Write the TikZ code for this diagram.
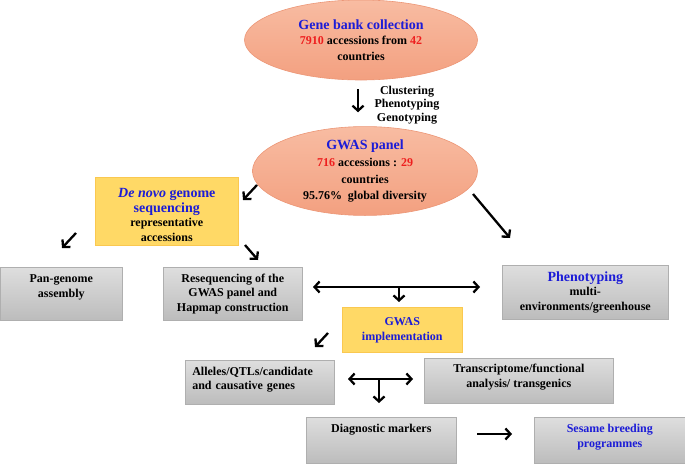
\documentclass[tikz,border=0pt]{standalone}
\usepackage{fontspec}
\setmainfont{Liberation Serif}
\usepackage{xcolor}
\usetikzlibrary{shapes.geometric,positioning,arrows.meta}

\definecolor{ovaltop}{RGB}{248,188,162}
\definecolor{ovalbot}{RGB}{243,160,128}
\definecolor{ovaledge}{RGB}{236,150,118}
\definecolor{gold}{RGB}{255,217,102}
\definecolor{goldedge}{RGB}{250,200,80}
\definecolor{greytop}{RGB}{222,222,222}
\definecolor{greybot}{RGB}{188,188,188}
\definecolor{greyedge}{RGB}{175,175,175}
\definecolor{titleblue}{RGB}{28,28,215}
\definecolor{numred}{RGB}{238,30,30}

\newcommand{\ttl}[1]{{\fontsize{14}{16}\selectfont\color{titleblue}#1}}
\newcommand{\blu}[1]{{\color{titleblue}#1}}
\newcommand{\redn}[1]{{\color{numred}#1}}

\begin{document}
\begin{tikzpicture}[
    x=1pt, y=-1pt,
    ->,
    >={Straight Barb[length=5pt,width=11pt]},
    line width=2.3pt
]


\tikzstyle{oval}=[
    ellipse,
    draw=ovaledge,
    line width=0.6pt,
    top color=ovaltop,
    bottom color=ovalbot,
    inner sep=0pt,
    align=center,
    font=\fontsize{12}{14.5}\selectfont\bfseries
]

\tikzstyle{greybox}=[
    rectangle,
    anchor=north west,
    draw=greyedge,
    line width=0.6pt,
    top color=greytop,
    bottom color=greybot,
    inner ysep=0pt,
    inner xsep=2pt,
    align=center,
    font=\fontsize{12}{14.5}\selectfont\bfseries
]

\tikzstyle{yellowbox}=[
    greybox,
    draw=goldedge,
    fill=gold,
    top color=gold,
    bottom color=gold
]

\useasboundingbox (0,0) rectangle (685,463);


\node[oval, minimum width=233, minimum height=80] (genebank) at (361,40)
    {\ttl{Gene bank collection}\\[1pt] \redn{7910} accessions from \redn{42}\\[1pt] countries};
\node[align=center, font=\fontsize{12}{13.5}\selectfont\bfseries] (steps) at (407,105)
    {Clustering\\ Phenotyping\\ Genotyping};
\node[oval, minimum width=225, minimum height=84] (panel) at (365,171)
    {\ttl{GWAS panel}\\[3pt] \redn{716} accessions : \redn{29}\\[2pt] countries\\[2pt] 95.76\%~ global diversity};

\node[yellowbox, minimum width=143, text height=63.7pt, text depth=4.3pt] (denovo) at (95,177)
    {\ttl{\textit{De novo} genome}\\ \ttl{sequencing}\\ representative\\ accessions};

\node[greybox, minimum width=122, text height=30pt, text depth=23pt] (pangenome) at (0,267)
    {Pan-genome\\ assembly};
\node[greybox, minimum width=139, text height=43.7pt, text depth=9.3pt] (reseq) at (163,267)
    {Resequencing of the\\ GWAS panel and\\ Hapmap construction};
\node[greybox, minimum width=166, text height=45pt, text depth=9pt] (pheno) at (502,265)
    {\ttl{Phenotyping}\\ multi-\\ environments/greenhouse};

\node[yellowbox, minimum width=120, text height=33pt, text depth=12pt] (impl) at (342,307)
    {\blu{GWAS}\\ \blu{implementation}};

\node[greybox, align=left, text width=135pt, inner xsep=7pt, text height=15pt, text depth=29pt] (alleles) at (185,360)
    {Alleles/QTLs/candidate\\ and causative genes};
\node[greybox, minimum width=189, text height=29pt, text depth=16pt] (transcr) at (424,358)
    {Transcriptome/functional\\ analysis/ transgenics};
\node[greybox, minimum width=150, text height=14.7pt, text depth=31.3pt] (diag) at (306,417)
    {Diagnostic markers};
\node[greybox, minimum width=151, text height=29.7pt, text depth=16.3pt] (sesame) at (534,417)
    {\blu{Sesame breeding}\\ \blu{programmes}};


\coordinate (panel sw) at (257,185);
\coordinate (denovo ne) at (243,200);
\coordinate (denovo sw) at (76,233);
\coordinate (pan top) at (62,248);
\coordinate (denovo se) at (245,245);
\coordinate (reseq top) at (258,260);
\coordinate (panel se) at (473,194);
\coordinate (pheno top) at (510,238);
\coordinate (reseq end) at (313,287);
\coordinate (pheno end) at (480,287);
\coordinate (split one) at (399,287);
\coordinate (impl top) at (399,302);
\coordinate (impl sw) at (328,333);
\coordinate (alleles top) at (315,347);
\coordinate (alleles end) at (348,379);
\coordinate (transcr end) at (413,379);
\coordinate (split two) at (379,379);
\coordinate (diag top) at (379,403);
\coordinate (diag out) at (477,434);
\coordinate (sesame in) at (512,434);


\draw ([xshift=-3pt, yshift=-9pt]genebank.south) -- ([xshift=-7pt, yshift=14pt]panel.north);
\draw (panel sw) -- (denovo ne);
\draw (denovo sw) -- (pan top);
\draw (denovo se) -- (reseq top);
\draw (panel se) -- (pheno top);
\draw[<->] (reseq end) -- (pheno end);
\draw (split one) -- (impl top);
\draw (impl sw) -- (alleles top);
\draw[<->] (alleles end) -- (transcr end);
\draw (split two) -- (diag top);
\draw (diag out) -- (sesame in);

\end{tikzpicture}
\end{document}
